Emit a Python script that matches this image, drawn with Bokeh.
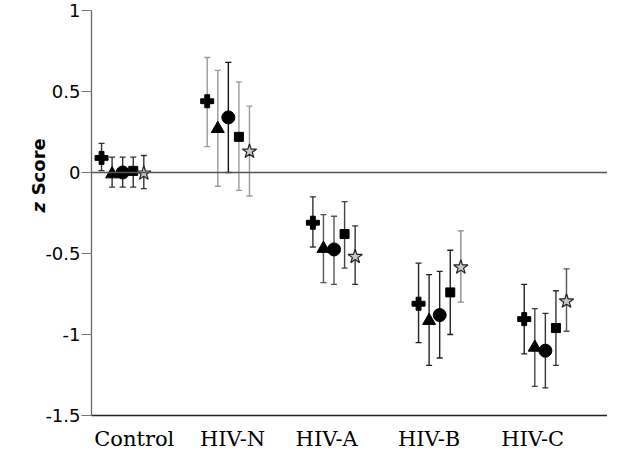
from bokeh.plotting import figure
from bokeh.models import Range1d, FixedTicker, Span, Label, ColumnDataSource
from bokeh.embed import file_html
from bokeh.resources import INLINE
import math

# ---- data ----
groups = ["Control", "HIV-N", "HIV-A", "HIV-B", "HIV-C"]
series = ["plus", "triangle", "circle", "square", "star"]

mean_plus = [0.09, 0.44, -0.31, -0.81, -0.905]
mean_triangle = [-0.01, 0.27, -0.47, -0.915, -1.08]
mean_circle = [0.0, 0.34, -0.475, -0.88, -1.10]
mean_square = [0.01, 0.22, -0.38, -0.74, -0.96]
mean_star = [-0.005, 0.13, -0.52, -0.585, -0.795]

upper_plus = [0.18, 0.71, -0.15, -0.56, -0.69]
upper_triangle = [0.095, 0.63, -0.26, -0.63, -0.84]
upper_circle = [0.095, 0.68, -0.27, -0.61, -0.87]
upper_square = [0.095, 0.56, -0.18, -0.48, -0.73]
upper_star = [0.105, 0.41, -0.33, -0.36, -0.595]

lower_plus = [0.012, 0.16, -0.46, -1.05, -1.12]
lower_triangle = [-0.09, -0.085, -0.68, -1.19, -1.32]
lower_circle = [-0.09, 0.0, -0.69, -1.145, -1.33]
lower_square = [-0.09, -0.11, -0.59, -1.0, -1.19]
lower_star = [-0.10, -0.145, -0.69, -0.80, -0.98]

y_ticks = [1, 0.5, 0, -0.5, -1, -1.5]

means = {"plus": mean_plus, "triangle": mean_triangle, "circle": mean_circle,
         "square": mean_square, "star": mean_star}
uppers = {"plus": upper_plus, "triangle": upper_triangle, "circle": upper_circle,
          "square": upper_square, "star": upper_star}
lowers = {"plus": lower_plus, "triangle": lower_triangle, "circle": lower_circle,
          "square": lower_square, "star": lower_star}

# ---- styles ----
offsets = {"plus": -0.2, "triangle": -0.1, "circle": 0.0, "square": 0.1, "star": 0.2}
sizes = {"plus": 13, "triangle": 13, "circle": 13, "square": 9, "star": 15}
bar_colors = {
    "plus":     ["#333333", "#9a9a9a", "#333333", "#222222", "#222222"],
    "triangle": ["#333333", "#9a9a9a", "#555555", "#222222", "#444444"],
    "circle":   ["#333333", "#111111", "#555555", "#222222", "#333333"],
    "square":   ["#333333", "#9a9a9a", "#444444", "#222222", "#333333"],
    "star":     ["#333333", "#9a9a9a", "#333333", "#8a8a8a", "#555555"],
}
label_shift = [0.11, 0.04, -0.07, -0.10, -0.12]

p = figure(width=607, height=453, output_backend="svg", toolbar_location=None,
           x_range=Range1d(-0.295, 4.588), y_range=Range1d(-1.5, 1.0),
           min_border_left=85, min_border_right=0, min_border_top=10,
           min_border_bottom=35)
p.outline_line_color = None
p.xgrid.grid_line_color = None
p.ygrid.grid_line_color = None
p.background_fill_color = "white"
p.border_fill_color = "white"

# zero line
p.add_layout(Span(location=0, dimension="width", line_color="#555555", line_width=1.6))

for s in series:
    xs = [i + offsets[s] for i in range(len(groups))]
    src = ColumnDataSource(dict(x=xs, m=means[s], lo=lowers[s], hi=uppers[s],
                                c=bar_colors[s]))
    p.segment(x0="x", y0="lo", x1="x", y1="hi", source=src, line_color="c", line_width=1.4)
    p.scatter(x="x", y="hi", source=src, marker="dash", size=6, line_color="c", line_width=1.3)
    p.scatter(x="x", y="lo", source=src, marker="dash", size=6, line_color="c", line_width=1.3)
    if s == "star":
        p.scatter(x="x", y="m", source=src, marker="star", size=sizes[s],
                  fill_color="#c8c8c8", line_color="#222222", line_width=1.2)
    else:
        p.scatter(x="x", y="m", source=src, marker=s, size=sizes[s],
                  fill_color="black", line_color="black")

# axes
xa = p.xaxis[0]
tick_pos = [i + label_shift[i] for i in range(len(groups))]
xa.ticker = FixedTicker(ticks=tick_pos)
xa.major_label_overrides = {tp: g for tp, g in zip(tick_pos, groups)}
xa.major_tick_out = 0
xa.major_tick_in = 0
xa.minor_tick_out = 0
xa.minor_tick_in = 0
xa.major_label_standoff = 11
xa.major_label_text_font = "DejaVu Serif"
xa.major_label_text_font_size = "21px"
xa.major_label_text_color = "black"
xa.axis_line_color = "#222222"
xa.axis_line_width = 1.5

ya = p.yaxis[0]
ya.ticker = FixedTicker(ticks=y_ticks)
ya.major_label_overrides = {1: "1", 0.5: "0.5", 0: "0", -0.5: "-0.5", -1: "-1", -1.5: "-1.5"}
ya.major_tick_out = 10
ya.major_tick_in = 0
ya.minor_tick_out = 0
ya.minor_tick_in = 0
ya.major_tick_line_color = "#777777"
ya.major_label_standoff = 1
ya.major_label_text_font = "DejaVu Sans"
ya.major_label_text_font_size = "18px"
ya.major_label_text_color = "black"
ya.axis_line_color = "#666666"
ya.axis_line_width = 1.3

# y-axis title: italic "z" and bold "Score" (placed in the left side panel)
p.add_layout(Label(x=-0.801, y=0.035, text="Score", angle=math.pi / 2,
                   text_align="center", text_baseline="middle",
                   text_font="DejaVu Sans", text_font_style="bold",
                   text_font_size="18px", text_color="black"), "left")
p.add_layout(Label(x=-0.801, y=-0.215, text="z", angle=math.pi / 2,
                   text_align="center", text_baseline="middle",
                   text_font="DejaVu Sans", text_font_style="bold italic",
                   text_font_size="18px", text_color="black"), "left")

open("out.html", "w").write(file_html(p, INLINE))
